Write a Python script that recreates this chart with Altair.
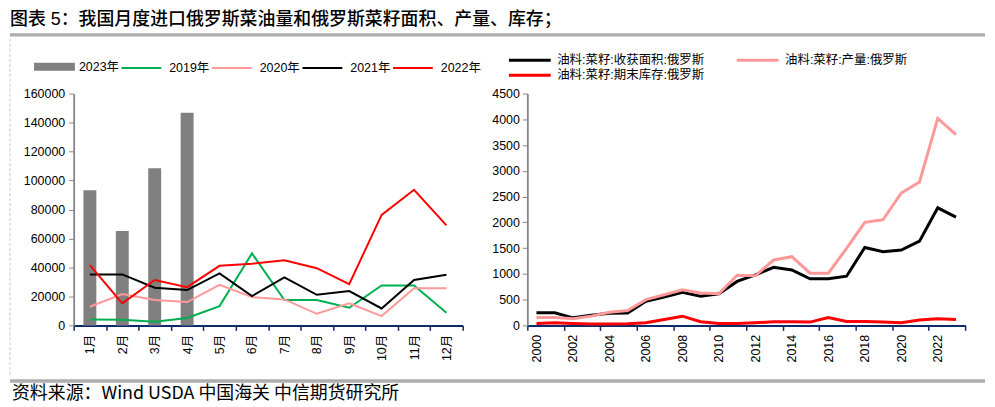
import altair as alt
import pandas as pd

# ---------------- data ----------------
title_text = "图表 5：我国月度进口俄罗斯菜油量和俄罗斯菜籽面积、产量、库存；"
source_text = "资料来源：Wind USDA 中国海关 中信期货研究所"

months = ["1月", "2月", "3月", "4月", "5月", "6月", "7月", "8月", "9月", "10月", "11月", "12月"]
bar_series = "2023年"
bars_2023 = [93300, 65200, 108400, 146800]

line_series = ["2019年", "2020年", "2021年", "2022年"]
imp_2019 = [4100, 3900, 2500, 5100, 13300, 49700, 17500, 17500, 12200, 27600, 27600, 8700]
imp_2020 = [12900, 21600, 17500, 16100, 28000, 19500, 17900, 8000, 15200, 6400, 25700, 25700]
imp_2021 = [35200, 35200, 26000, 24400, 35900, 20200, 33100, 21100, 23700, 11700, 31300, 34900]
imp_2022 = [41600, 15200, 31300, 26400, 41100, 42500, 45000, 39500, 28500, 76300, 93600, 69000]

years = list(range(2000, 2024))
right_series = ["油料:菜籽:收获面积:俄罗斯", "油料:菜籽:产量:俄罗斯", "油料:菜籽:期末库存:俄罗斯"]
area = [244, 244, 147, 195, 235, 240, 468, 551, 641, 564, 615, 853, 981, 1128, 1077, 904, 904, 955,
        1513, 1429, 1462, 1635, 2282, 2103]
production = [154, 154, 128, 180, 256, 288, 500, 596, 692, 628, 615, 974, 962, 1269, 1333, 1013, 1013,
              1494, 2000, 2051, 2570, 2783, 4018, 3703]
stocks = [38, 51, 38, 26, 26, 32, 51, 115, 179, 71, 38, 38, 51, 71, 71, 64, 154, 77, 77, 64, 51, 103,
          128, 115]

# ---------------- tables ----------------
bar_df = pd.DataFrame({"month": months[:len(bars_2023)], "value": bars_2023, "series": bar_series})
left_rows = []
for s, vals in zip(line_series, [imp_2019, imp_2020, imp_2021, imp_2022]):
    for i, (m, v) in enumerate(zip(months, vals)):
        left_rows.append({"series": s, "month": m, "value": v, "order": i})
left_df = pd.DataFrame(left_rows)

right_rows = []
for s, vals in zip(right_series, [area, production, stocks]):
    for y, v in zip(years, vals):
        right_rows.append({"series": s, "year": y, "value": v})
right_df = pd.DataFrame(right_rows)

FONT = "Liberation Sans, Noto Sans CJK SC"
CJK = "Noto Sans CJK SC"
NAVY = "#0D2B6B"
GREY_AX = "#868686"

LW, LH = 391, 233
RW, RH = 440, 233

left_colors = ["#00B050", "#FF9999", "#000000", "#FF0000"]

x_left = alt.X("month:N", sort=months,
               scale=alt.Scale(domain=months, paddingInner=0, paddingOuter=0),
               axis=alt.Axis(title=None, labelAngle=-90, tickBand="extent",
                             domainColor=NAVY, domainWidth=2, tickColor=NAVY, tickWidth=1.5,
                             tickSize=5, labelFontSize=12.5, labelColor="black", labelFont=FONT,
                             labelPadding=4))
y_left = alt.Y("value:Q", scale=alt.Scale(domain=[0, 160000], nice=False),
               axis=alt.Axis(title=None, values=list(range(0, 160001, 20000)), format="d",
                             grid=False, domainColor=GREY_AX, domainWidth=1.8, tickColor=GREY_AX,
                             tickSize=5, labelFontSize=12.5, labelColor="black", labelFont=FONT,
                             labelPadding=4))

bars = alt.Chart(bar_df).mark_bar(size=13).encode(
    x=x_left, y=y_left,
    fill=alt.Fill("series:N", scale=alt.Scale(domain=[bar_series], range=["#808080"]),
                  legend=alt.Legend(title=None, orient="none", legendX=-26.3, legendY=-34,
                                    symbolType="M-3,-0.6L3,-0.6L3,0.6L-3,0.6Z", symbolSize=187,
                                    symbolStrokeWidth=0, symbolOpacity=1, labelFontSize=12.5,
                                    labelFont=FONT, labelColor="black", labelOffset=17.6,
                                    padding=0)),
)

lines_left = alt.Chart(left_df).mark_line().encode(
    x=x_left, y=y_left,
    order="order:Q",
    stroke=alt.Stroke("series:N", scale=alt.Scale(domain=line_series, range=left_colors),
                      legend=alt.Legend(title=None, orient="none", legendX=60, legendY=-34,
                                        direction="horizontal", columns=4,
                                        symbolType="M-3,0L3,0", symbolSize=178,
                                        symbolStrokeWidth=2,
                                        labelFontSize=12.5, labelFont=FONT, labelColor="black",
                                        labelOffset=20, columnPadding=-3, padding=0)),
    strokeWidth=alt.StrokeWidth("series:O", scale=alt.Scale(domain=line_series,
                                                            range=[2, 2, 2, 3.6]),
                                legend=None),
)

one = pd.DataFrame({"t": [title_text]})
title_mark = alt.Chart(one).mark_text(align="left", baseline="middle", fontSize=18,
                                      font=FONT, fontWeight=500, color="black").encode(
    x=alt.value(-64), y=alt.value(-74), text="t:N")
foot = pd.DataFrame({"t": [source_text]})
foot_mark = alt.Chart(foot).mark_text(align="left", baseline="middle", fontSize=18,
                                      font=CJK, color="black").encode(
    x=alt.value(-62), y=alt.value(302), text="t:N")
rule_top = alt.Chart(one).mark_rule(color="#ADADAD", strokeWidth=3.5).encode(
    x=alt.value(-64), x2=alt.value(916), y=alt.value(-59))
rule_bot = alt.Chart(one).mark_rule(color="#ADADAD", strokeWidth=3.5).encode(
    x=alt.value(-64), x2=alt.value(916), y=alt.value(289))
rule_left = alt.Chart(one).mark_rule(color="#C8C8C8", strokeWidth=1, strokeDash=[3, 2]).encode(
    x=alt.value(-64), y=alt.value(-55), y2=alt.value(285))

left = alt.layer(rule_top, rule_bot, rule_left, title_mark, foot_mark, bars, lines_left).properties(
    width=LW, height=LH)

# ---------------- right chart ----------------
x_scale_r = alt.Scale(domain=[1999.5, 2023.5], nice=False, zero=False)
y_right = alt.Y("value:Q", scale=alt.Scale(domain=[0, 4500], nice=False),
                axis=alt.Axis(title=None, values=list(range(0, 4501, 500)), format="d",
                              grid=False, domainColor=GREY_AX, domainWidth=1.8, tickColor=GREY_AX,
                              tickSize=5, labelFontSize=12.5, labelColor="black", labelFont=FONT,
                              labelPadding=3))

lines_right = alt.Chart(right_df).mark_line(strokeWidth=3).encode(
    x=alt.X("year:Q", scale=x_scale_r,
            axis=alt.Axis(title=None, orient="bottom", values=years[::2], format="d",
                          labelAngle=-90, ticks=False, domainColor=NAVY, domainWidth=2,
                          labelFontSize=12.5, labelColor="black", labelFont=FONT,
                          labelPadding=9, grid=False)),
    y=y_right,
    stroke=alt.Stroke("series:N", sort=right_series,
                      scale=alt.Scale(domain=right_series, range=["#000000", "#FF9999", "#FF0000"]),
                      legend=alt.Legend(title=None, orient="none", legendX=-6, legendY=-42,
                                        direction="horizontal", columns=2,
                                        symbolType="M-3,0L3,0", symbolSize=196,
                                        symbolStrokeWidth=3,
                                        labelFontSize=12.5, labelFont=FONT, labelColor="black",
                                        labelOffset=19, columnPadding=26, rowPadding=0, padding=0,
                                        labelLimit=400)),
)

tick_vals = [y - 0.5 for y in years[::2]] + [years[-1] + 0.5]
ticks_right = alt.Chart(right_df).mark_point(opacity=0).encode(
    x=alt.X("year:Q", scale=x_scale_r,
            axis=alt.Axis(title=None, orient="bottom", values=tick_vals, labels=False,
                          ticks=True, tickColor=NAVY, tickWidth=1.5, tickSize=5,
                          domainColor=NAVY, domainWidth=2, grid=False)),
    y=y_right,
)

right = alt.layer(lines_right, ticks_right).resolve_axis(x="independent").properties(
    width=RW, height=RH)

chart = alt.hconcat(left, right, spacing=65, bounds="flush").resolve_scale(
    stroke="independent", strokeWidth="independent", fill="independent"
).resolve_legend(stroke="independent", fill="independent").properties(
    padding={"top": 2, "left": 0, "right": 0, "bottom": 0}, background="white"
).configure_view(stroke=None)

chart.save("out.html", embed_options={"renderer": "svg", "actions": False})
